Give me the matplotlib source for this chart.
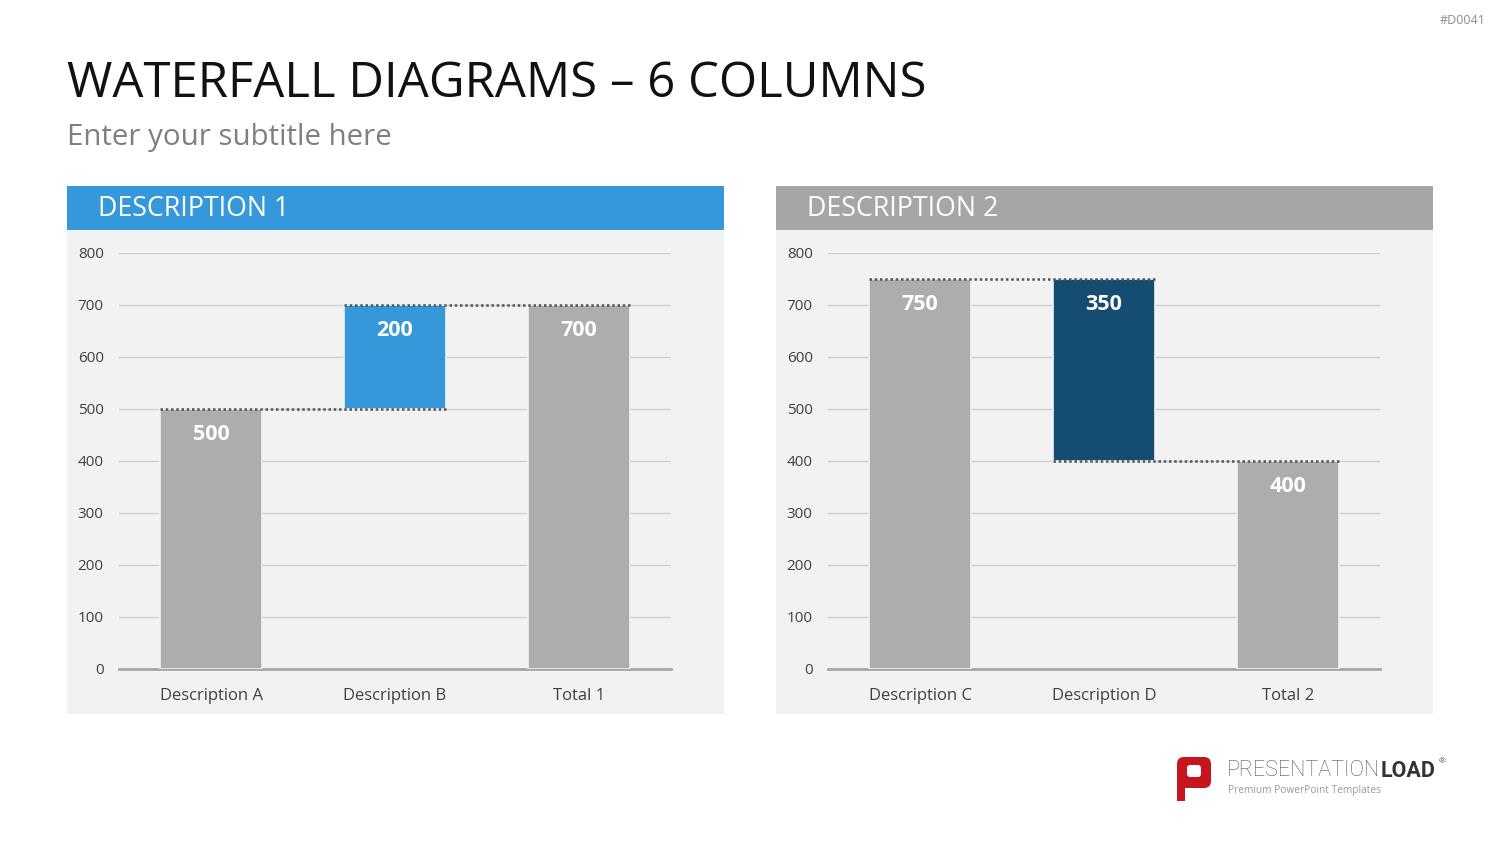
import matplotlib.pyplot as plt
from matplotlib.patches import Rectangle, FancyBboxPatch

plt.rcParams['font.family'] = ['Open Sans', 'DejaVu Sans']

# data
cats_1 = ['Description A', 'Description B', 'Total 1']
vals_1 = [500, 200, 700]
kind_1 = ['start', 'delta', 'total']
cols_1 = ['#adadad', '#3498db', '#adadad']

cats_2 = ['Description C', 'Description D', 'Total 2']
vals_2 = [750, -350, 400]
kind_2 = ['start', 'delta', 'total']
cols_2 = ['#adadad', '#154c72', '#adadad']

yticks = [0, 100, 200, 300, 400, 500, 600, 700, 800]

W, H = 1500, 844
fig = plt.figure(figsize=(15, 8.44), dpi=100)
fig.patch.set_facecolor('white')

bg = fig.add_axes([0, 0, 1, 1])
bg.set_xlim(0, W)
bg.set_ylim(H, 0)
bg.axis('off')


def px_rect(x0, y0, x1, y1):
    return [x0 / W, 1 - y1 / H, (x1 - x0) / W, (y1 - y0) / H]


bg.text(67, 84, 'WATERFALL DIAGRAMS – 6 COLUMNS', fontsize=35.4, color='#111111',
        va='center', ha='left')
bg.text(67, 138, 'Enter your subtitle here', fontsize=21.2, color='#7f7f7f',
        va='center', ha='left')
bg.text(1486, 20, '#D0041', fontsize=9, color='#8c8c8c', va='center', ha='right')

# logo
bg.add_patch(FancyBboxPatch((1177, 757), 34, 31, boxstyle='round,pad=0,rounding_size=7',
                            fc='#c4161c', ec='none'))
bg.add_patch(Rectangle((1177, 780), 8, 21, fc='#c4161c', ec='none'))
bg.add_patch(FancyBboxPatch((1187, 765), 14, 12, boxstyle='round,pad=0,rounding_size=3',
                            fc='white', ec='none'))
t1 = bg.text(1227, 771, 'PRESENTATION', fontsize=15.5, color='#555555', va='center',
             ha='left', family='Roboto', fontweight='light')
fig.canvas.draw()
ext = t1.get_window_extent()
t2 = bg.text(ext.x1 + 1, 771, 'LOAD', fontsize=15.5, color='#333333', va='center',
             ha='left', family='Roboto', fontweight='bold')
fig.canvas.draw()
ext2 = t2.get_window_extent()
bg.text(ext2.x1 + 3, 762, '®', fontsize=6, color='#555555', va='center', ha='left')
bg.text(1228, 791, 'Premium PowerPoint Templates', fontsize=7.3, color='#9a9a9a',
        va='center', ha='left')


def panel(px0, header_col, title, cats, vals, kinds, cols):
    bg.add_patch(Rectangle((px0, 230), 657, 484, fc='#f2f2f2', ec='none'))
    bg.add_patch(Rectangle((px0, 186), 657, 44, fc=header_col, ec='none'))
    bg.text(px0 + 31, 209, title, fontsize=19.3, color='white', va='center', ha='left')

    ax = fig.add_axes(px_rect(px0 + 52, 253, px0 + 604, 669))
    ax.set_facecolor('none')
    ax.set_xlim(-0.5, 2.5)
    ax.set_ylim(0, 800)

    # bottoms / tops of the waterfall
    bottoms, heights, levels = [], [], []
    run = 0
    for v, k in zip(vals, kinds):
        if k == 'total':
            b, h = 0, v
            run = v
        else:
            b = run if v >= 0 else run + v
            h = abs(v)
            run = run + v
        bottoms.append(b)
        heights.append(h)
        levels.append(run)

    w = 0.55
    x = list(range(len(cats)))
    ax.bar(x, heights, bottom=bottoms, width=w, color=cols, edgecolor='#f2f2f2',
           linewidth=1.2, zorder=3)

    for i in range(len(x) - 1):
        ax.plot([x[i] - w / 2, x[i + 1] + w / 2], [levels[i], levels[i]],
                color='#555555', lw=1.8, linestyle=(0, (1, 1.1)), zorder=4,
                solid_capstyle='butt')

    for i in range(len(x)):
        top = bottoms[i] + heights[i]
        ax.annotate(str(abs(vals[i])), (x[i], top), xytext=(0, -18),
                    textcoords='offset points', ha='center', va='center',
                    color='white', fontsize=15.5, fontweight='bold', zorder=5)

    ax.set_yticks(yticks)
    ax.set_xticks(x)
    ax.set_xticklabels(cats)
    ax.grid(axis='y', color='#d0d0d0', lw=1, zorder=0)
    ax.set_axisbelow(True)
    for s in ['top', 'right', 'left']:
        ax.spines[s].set_visible(False)
    ax.spines['bottom'].set_color('#a6a6a6')
    ax.spines['bottom'].set_linewidth(2)
    ax.tick_params(axis='y', length=0, pad=11, labelsize=11, labelcolor='#404040')
    ax.tick_params(axis='x', length=0, pad=13.5, labelsize=12, labelcolor='#404040')
    return ax


panel(67, '#3598db', 'DESCRIPTION 1', cats_1, vals_1, kind_1, cols_1)
panel(776, '#a6a6a6', 'DESCRIPTION 2', cats_2, vals_2, kind_2, cols_2)

fig.savefig('out.png', dpi=100, facecolor='white')
